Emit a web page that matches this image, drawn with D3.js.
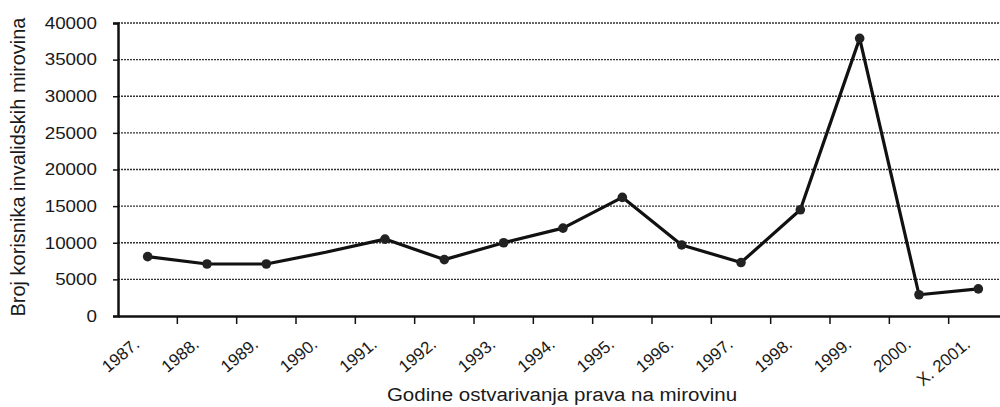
<!DOCTYPE html>
<html>
<head>
<meta charset="utf-8">
<script src="https://cdn.jsdelivr.net/npm/d3@7"></script>
<style>
  body { margin: 0; background: #fff; }
  text { font-family: "Liberation Sans", Arial, sans-serif; fill: #1a1a1a; }
</style>
</head>
<body>
<div id="chart"></div>
<script>
const years = ["1987.", "1988.", "1989.", "1990.", "1991.", "1992.", "1993.", "1994.",
    "1995.", "1996.", "1997.", "1998.", "1999.", "2000.", "X. 2001."]
const pensions = [8100, 7100, 7100, 8700, 10500, 7700, 10000, 12000,
    16200, 9700, 7300, 14500, 37900, 2900, 3700]
const hasMarker = [true, true, true, false, true, true, true, true,
    true, true, true, true, true, true, true]
const yTicks = [0, 5000, 10000, 15000, 20000, 25000, 30000, 35000, 40000]

let dimensions = {
    width: 1000,
    height: 407,
    margin: { top: 23, right: -8, bottom: 91, left: 118 },
}
dimensions.boundedWidth = dimensions.width - dimensions.margin.left - dimensions.margin.right
dimensions.boundedHeight = dimensions.height - dimensions.margin.top - dimensions.margin.bottom

// the scan is a bit wider than tall, stretch horizontal text to match
const stretch = sel => sel.each(function () {
    const len = this.getComputedTextLength()
    d3.select(this).attr("textLength", len * 1.14).attr("lengthAdjust", "spacingAndGlyphs")
})

const svg = d3.select("#chart")
    .append("svg")
    .attr("width", dimensions.width)
    .attr("height", dimensions.height)

const bounds = svg.append("g")
    .attr("transform", `translate(${dimensions.margin.left},${dimensions.margin.top})`)

const xScale = d3.scaleBand()
    .domain(years)
    .range([0, dimensions.boundedWidth])

const yScale = d3.scaleLinear()
    .domain([0, 40000])
    .range([dimensions.boundedHeight, 0])

// gridlines
bounds.append("g")
    .selectAll("line")
    .data(yTicks.filter(d => d > 0))
    .join("line")
    .attr("x1", 0)
    .attr("x2", dimensions.width - dimensions.margin.left)
    .attr("y1", d => yScale(d))
    .attr("y2", d => yScale(d))
    .attr("stroke", "#333")
    .attr("stroke-width", 1.4)
    .attr("stroke-dasharray", "2,1")

// y axis
const yAxis = bounds.append("g")
    .call(d3.axisLeft(yScale).tickValues(yTicks).tickSize(5).tickPadding(16).tickFormat(d3.format("d")))
yAxis.select(".domain").attr("stroke", "#111").attr("stroke-width", 2.5)
yAxis.selectAll(".tick line").attr("stroke", "#111").attr("stroke-width", 1.5)
yAxis.selectAll("text").style("font-size", "16.5px").attr("fill", "#1a1a1a").call(stretch)

// x axis
const xAxis = bounds.append("g")
    .attr("transform", `translate(0,${dimensions.boundedHeight})`)
    .call(d3.axisBottom(xScale).tickSize(0).tickPadding(0))
xAxis.select(".domain").attr("stroke", "#111").attr("stroke-width", 2.5)
xAxis.selectAll(".tick text")
    .style("font-size", "17px")
    .attr("fill", "#1a1a1a")
    .attr("text-anchor", "end")
    .attr("transform", "translate(-7,30) rotate(-40)")
    .attr("dy", 0)
    .attr("y", 0)

// ticks between categories
bounds.append("g")
    .selectAll("line")
    .data(years.slice(1))
    .join("line")
    .attr("x1", d => xScale(d))
    .attr("x2", d => xScale(d))
    .attr("y1", dimensions.boundedHeight)
    .attr("y2", dimensions.boundedHeight + 8)
    .attr("stroke", "#111")
    .attr("stroke-width", 1.5)

// line
const lineGenerator = d3.line()
    .x((d, i) => xScale(years[i]) + xScale.bandwidth() / 2)
    .y(d => yScale(d))

bounds.append("path")
    .datum(pensions)
    .attr("d", lineGenerator)
    .attr("fill", "none")
    .attr("stroke", "#111")
    .attr("stroke-width", 3.2)
    .attr("stroke-linejoin", "round")

bounds.append("g")
    .selectAll("circle")
    .data(pensions.map((d, i) => ({ year: years[i], value: d })).filter((d, i) => hasMarker[i]))
    .join("circle")
    .attr("cx", d => xScale(d.year) + xScale.bandwidth() / 2)
    .attr("cy", d => yScale(d.value))
    .attr("r", 4.8)
    .attr("fill", "#222")

// titles
svg.append("text")
    .attr("x", 562)
    .attr("y", 401)
    .attr("text-anchor", "middle")
    .style("font-size", "18px")
    .text("Godine ostvarivanja prava na mirovinu")
    .call(stretch)

svg.append("text")
    .attr("transform", "translate(25,167) rotate(-90)")
    .attr("text-anchor", "middle")
    .style("font-size", "20px")
    .text("Broj korisnika invalidskih mirovina")
</script>
</body>
</html>
